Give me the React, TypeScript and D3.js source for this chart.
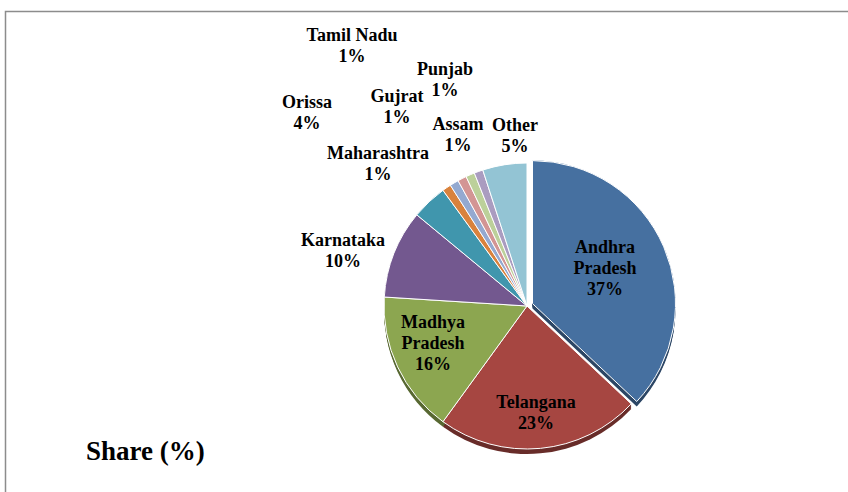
import React from "react";
import * as d3 from "d3";

const states = ["Andhra Pradesh", "Telangana", "Madhya Pradesh", "Karnataka", "Orissa", "Maharashtra", "Gujrat", "Tamil Nadu", "Punjab", "Assam", "Other"];
const shares = [37, 23, 16, 10, 4, 1, 1, 1, 1, 1, 5];
const colors = ["#4670a0", "#a64641", "#8ca650", "#73588f", "#4096ad", "#d9823c", "#94a9d0", "#d39594", "#bcd09a", "#aa9cc0", "#93c4d4"];
// label lines and anchor (center x, first baseline y) chosen to follow the reference's layout
const labelLines = [["Andhra", "Pradesh", "37%"], ["Telangana", "23%"], ["Madhya", "Pradesh", "16%"], ["Karnataka", "10%"], ["Orissa", "4%"], ["Maharashtra", "1%"], ["Gujrat", "1%"], ["Tamil Nadu", "1%"], ["Punjab", "1%"], ["Assam", "1%"], ["Other", "5%"]];
const labelAnchors: [number, number][] = [[605, 253], [536, 408], [433, 328], [343, 246], [307, 108], [378, 159], [397, 102], [352, 41], [445, 75], [458, 130], [515, 131]];
const title = "Share (%)";

const W = 848, H = 492;
const cx = 527, cy = 306, R = 143;
const depth = 5;
const explode = [6, 0, 0, 0, 0, 0, 0, 0, 0, 0, 0];

export default function App() {
  const pie = d3.pie<number>().sort(null).value((d) => d);
  const arcs = pie(shares);
  const arcGen = d3.arc<d3.PieArcDatum<number>>().innerRadius(0).outerRadius(R);
  const offsets = arcs.map((a, i) => {
    const mid = (a.startAngle + a.endAngle) / 2;
    return [Math.sin(mid) * explode[i], -Math.cos(mid) * explode[i]];
  });
  const font = "'Liberation Serif', 'Times New Roman', serif";
  const layers = d3.range(1, depth + 1);
  return (
    <svg width={W} height={H} style={{ position: "absolute", left: 0, top: 0, background: "#fff" }}>
      <path d={`M5.5,${H} V11.5 H${W}`} fill="none" stroke="#8c8c8c" strokeWidth={1.5} />
      <g transform={`translate(${cx},${cy})`}>
        {arcs.map((a, i) =>
          layers.map((dy) => (
            <path key={`s${i}-${dy}`} d={arcGen(a) || ""} transform={`translate(${offsets[i][0]},${offsets[i][1] + dy})`}
              fill={d3.color(colors[i])!.darker(1.3).toString()} />
          ))
        )}
        {arcs.map((a, i) => (
          <path key={`t${i}`} d={arcGen(a) || ""} transform={`translate(${offsets[i][0]},${offsets[i][1]})`}
            fill={colors[i]} stroke="#fff" strokeWidth={1} strokeLinejoin="round" />
        ))}
      </g>
      {labelLines.map((lines, i) => (
        <text key={`l${i}`} textAnchor="middle" fontFamily={font} fontWeight="bold" fontSize={18} fill="#000">
          {lines.map((ln, j) => (
            <tspan key={j} x={labelAnchors[i][0]} y={labelAnchors[i][1] + j * 21}>{ln}</tspan>
          ))}
        </text>
      ))}
      <text x={86} y={460} fontFamily={font} fontWeight="bold" fontSize={27} fill="#000">{title}</text>
    </svg>
  );
}
